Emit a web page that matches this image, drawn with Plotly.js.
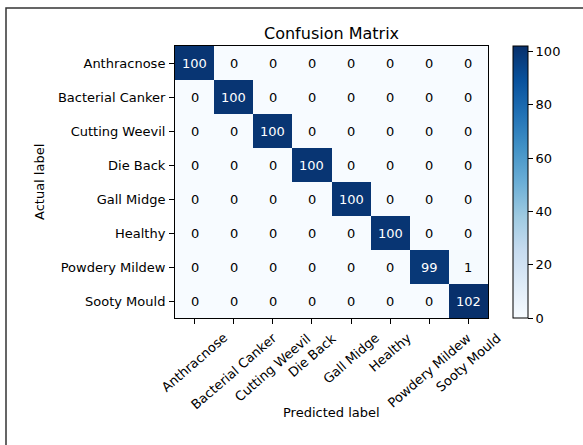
<!DOCTYPE html>
<html>
<head>
<meta charset="utf-8">
<script src="https://cdn.plot.ly/plotly-3.0.1.min.js"></script>
<style>
html,body{margin:0;padding:0;background:#fff;}
#chart{width:583px;height:445px;}
</style>
</head>
<body>
<div id="chart"></div>
<script>
var categories = ["Anthracnose", "Bacterial Canker", "Cutting Weevil", "Die Back", "Gall Midge", "Healthy", "Powdery Mildew", "Sooty Mould"];
var actualLabels = categories;
var predictedLabels = categories;
var counts = [
  [100, 0, 0, 0, 0, 0, 0, 0],
  [0, 100, 0, 0, 0, 0, 0, 0],
  [0, 0, 100, 0, 0, 0, 0, 0],
  [0, 0, 0, 100, 0, 0, 0, 0],
  [0, 0, 0, 0, 100, 0, 0, 0],
  [0, 0, 0, 0, 0, 100, 0, 0],
  [0, 0, 0, 0, 0, 0, 99, 1],
  [0, 0, 0, 0, 0, 0, 0, 102]
];
var colorbarTicks = [0, 20, 40, 60, 80, 100];

var FONT = "DejaVu Sans, sans-serif";
var blues = [
  [0.0, "#f7fbff"], [0.125, "#deebf7"], [0.25, "#c6dbef"], [0.375, "#9ecae1"],
  [0.5, "#6baed6"], [0.625, "#4292c6"], [0.75, "#2171b5"], [0.875, "#08519c"], [1.0, "#08306b"]
];
var zmax = Math.max.apply(null, counts.map(function(r){return Math.max.apply(null, r);}));
var thresh = zmax / 2;
var nX = predictedLabels.length, nY = actualLabels.length;

var annotations = [];
for (var i = 0; i < nY; i++) {
  for (var j = 0; j < nX; j++) {
    annotations.push({
      x: predictedLabels[j], y: actualLabels[i], xref: "x", yref: "y",
      text: String(counts[i][j]), showarrow: false,
      font: {family: FONT, size: 13, color: counts[i][j] > thresh ? "#ffffff" : "#000000"}
    });
  }
}
// rotated x tick labels, centred under each tick
predictedLabels.forEach(function(lab) {
  annotations.push({
    x: lab, xref: "x", y: 0, yref: "paper", yshift: -11,
    xanchor: "center", yanchor: "top", textangle: -41,
    text: lab, showarrow: false, borderpad: 0,
    font: {family: FONT, size: 13, color: "#000"}
  });
});
annotations.push({
  x: 0.5, xref: "paper", y: (318 - 412) / 272, yref: "paper",
  xanchor: "center", yanchor: "middle", text: "Predicted label", showarrow: false,
  font: {family: FONT, size: 13, color: "#000"}
});
annotations.push({
  x: (39 - 175) / 313, xref: "paper", y: 0.5, yref: "paper",
  xanchor: "center", yanchor: "middle", textangle: -90, text: "Actual label", showarrow: false,
  font: {family: FONT, size: 13, color: "#000"}
});
annotations.push({
  x: 0.5, xref: "paper", y: (318 - 34) / 272, yref: "paper",
  xanchor: "center", yanchor: "middle", text: "Confusion Matrix", showarrow: false,
  font: {family: FONT, size: 16, color: "#000"}
});

var trace = {
  type: "heatmap",
  x: predictedLabels,
  y: actualLabels,
  z: counts,
  zmin: 0,
  zmax: zmax,
  colorscale: blues,
  hoverinfo: "skip",
  colorbar: {
    x: 1.08, xanchor: "left", xpad: 0, ypad: 0,
    y: 0.5, yanchor: "middle", len: 1, lenmode: "fraction",
    thickness: 15, outlinewidth: 1, outlinecolor: "#000",
    tickvals: colorbarTicks, ticks: "outside", ticklen: 5, tickcolor: "#000",
    tickfont: {family: FONT, size: 13, color: "#000"}
  }
};

var layout = {
  width: 583, height: 445,
  margin: {l: 175, r: 95, t: 46, b: 127},
  paper_bgcolor: "#fff", plot_bgcolor: "#fff",
  font: {family: FONT, color: "#000"},
  xaxis: {
    type: "category", range: [-0.5, nX - 0.5], autorange: false,
    showgrid: false, zeroline: false,
    showline: true, mirror: true, linecolor: "#000", linewidth: 1,
    ticks: "outside", ticklen: 5, tickcolor: "#000", showticklabels: false,
    automargin: false, fixedrange: true
  },
  yaxis: {
    type: "category", range: [nY - 0.5, -0.5], autorange: false,
    showgrid: false, zeroline: false,
    showline: true, mirror: true, linecolor: "#000", linewidth: 1,
    ticks: "outside", ticklen: 5, tickcolor: "#000", ticklabelstandoff: 1,
    tickfont: {family: FONT, size: 13, color: "#000"},
    automargin: false, fixedrange: true
  },
  annotations: annotations,
  shapes: [{
    type: "rect", xref: "paper", yref: "paper",
    x0: (6 - 175) / 313, x1: 3, y0: -3, y1: (318 - 8) / 272,
    line: {color: "#333", width: 1.5}, fillcolor: "rgba(0,0,0,0)", layer: "below"
  }]
};

Plotly.newPlot("chart", [trace], layout, {staticPlot: true, displayModeBar: false});
</script>
</body>
</html>
